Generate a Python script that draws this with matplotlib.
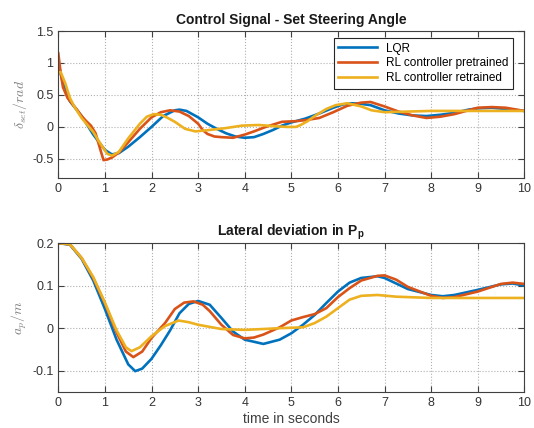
import numpy as np
import matplotlib.pyplot as plt

plt.rcParams['font.family'] = ['Liberation Sans', 'DejaVu Sans']
plt.rcParams['mathtext.fontset'] = 'custom'
plt.rcParams['mathtext.it'] = 'cmmi10'
plt.rcParams['mathtext.rm'] = 'cmr10'
plt.rcParams['mathtext.bf'] = 'Liberation Sans:bold'

# --- control signal (set steering angle) ---
t_lqr_top = [0, 0.1, 0.25, 0.5, 0.75, 1.0, 1.15, 1.3, 1.5, 1.75, 2.0, 2.25, 2.5, 2.6,
             2.75, 3.0, 3.2, 3.4, 3.6, 3.8, 4.0, 4.2, 4.4, 4.6, 4.8, 5.0, 5.3, 5.6,
             5.9, 6.1, 6.3, 6.5, 6.7, 7.0, 7.3, 7.6, 7.9, 8.2, 8.5, 8.8, 9.0, 9.3, 9.6, 10]
lqr_top = [1.0, 0.68, 0.40, 0.17, -0.12, -0.36, -0.43, -0.41, -0.31, -0.16, 0.0, 0.17,
           0.26, 0.27, 0.25, 0.15, 0.05, -0.03, -0.10, -0.15, -0.17, -0.16, -0.11, -0.05,
           0.02, 0.07, 0.13, 0.21, 0.30, 0.35, 0.37, 0.36, 0.34, 0.26, 0.21, 0.18, 0.17,
           0.19, 0.22, 0.27, 0.29, 0.30, 0.28, 0.25]

t_pre_top = [0, 0.05, 0.1, 0.2, 0.3, 0.4, 0.5, 0.6, 0.7, 0.8, 0.9, 0.97, 1.05, 1.15, 1.3,
             1.5, 1.75, 2.0, 2.2, 2.4, 2.6, 2.8, 3.0, 3.1, 3.2, 3.35, 3.5, 3.75, 4.0, 4.2,
             4.45, 4.8, 5.1, 5.3, 5.6, 5.9, 6.2, 6.5, 6.7, 7.0, 7.3, 7.6, 7.9, 8.2, 8.5,
             9.0, 9.3, 9.6, 10]
pre_top = [1.15, 0.85, 0.62, 0.45, 0.36, 0.27, 0.17, 0.09, 0.02, -0.10, -0.35, -0.52,
           -0.51, -0.48, -0.40, -0.24, -0.03, 0.15, 0.23, 0.26, 0.24, 0.17, 0.05, -0.05,
           -0.11, -0.15, -0.16, -0.17, -0.12, -0.07, 0.0, 0.08, 0.09, 0.105, 0.14, 0.23,
           0.33, 0.38, 0.39, 0.32, 0.24, 0.18, 0.14, 0.16, 0.20, 0.30, 0.31, 0.30, 0.25]

t_re_top = [0, 0.05, 0.15, 0.25, 0.35, 0.5, 0.75, 0.9, 1.05, 1.15, 1.3, 1.5, 1.75, 1.9,
            2.05, 2.2, 2.35, 2.5, 2.72, 2.94, 3.22, 3.58, 3.94, 4.3, 4.66, 4.9, 5.1, 5.2,
            5.35, 5.5, 5.75, 5.95, 6.2, 6.5, 6.72, 7.0, 7.5, 8.0, 9.0, 10]
re_top = [0.85, 0.86, 0.68, 0.45, 0.31, 0.14, -0.08, -0.26, -0.42, -0.45, -0.39, -0.18,
          0.05, 0.16, 0.20, 0.19, 0.14, 0.08, -0.03, -0.07, -0.05, -0.02, 0.02, 0.03, 0.01,
          0.0, 0.0, 0.03, 0.09, 0.17, 0.28, 0.34, 0.37, 0.32, 0.26, 0.23, 0.24, 0.25, 0.25, 0.25]

# --- lateral deviation ---
t_lqr_bot = [0, 0.25, 0.5, 0.75, 1.0, 1.25, 1.5, 1.65, 1.8, 2.0, 2.2, 2.4, 2.6, 2.8, 3.0,
             3.25, 3.5, 3.75, 4.0, 4.4, 4.75, 5.0, 5.25, 5.5, 5.75, 6.0, 6.25, 6.5, 6.85,
             7.0, 7.25, 7.5, 8.0, 8.25, 8.5, 9.0, 9.5, 9.75, 10]
lqr_bot = [0.2, 0.196, 0.163, 0.112, 0.045, -0.027, -0.085, -0.101, -0.095, -0.072, -0.04,
           -0.005, 0.035, 0.057, 0.064, 0.055, 0.024, -0.008, -0.027, -0.037, -0.027, -0.012,
           0.008, 0.031, 0.059, 0.086, 0.107, 0.118, 0.122, 0.118, 0.105, 0.092, 0.078,
           0.075, 0.078, 0.09, 0.103, 0.105, 0.1]

t_pre_bot = [0, 0.25, 0.5, 0.75, 1.0, 1.25, 1.45, 1.61, 1.8, 2.0, 2.29, 2.5, 2.7, 2.9, 3.1,
             3.25, 3.5, 3.75, 4.0, 4.2, 4.4, 4.75, 5.0, 5.25, 5.5, 5.75, 6.0, 6.25, 6.5,
             6.85, 7.0, 7.25, 7.5, 8.0, 8.25, 8.5, 9.0, 9.5, 9.75, 10]
pre_bot = [0.2, 0.197, 0.165, 0.118, 0.058, -0.01, -0.055, -0.068, -0.055, -0.023, 0.012,
           0.045, 0.06, 0.063, 0.055, 0.04, 0.008, -0.016, -0.024, -0.022, -0.015, 0.002,
           0.018, 0.026, 0.033, 0.047, 0.073, 0.094, 0.112, 0.123, 0.124, 0.114, 0.097,
           0.076, 0.071, 0.073, 0.086, 0.104, 0.107, 0.104]

t_re_bot = [0, 0.25, 0.5, 0.75, 1.0, 1.25, 1.45, 1.57, 1.75, 2.0, 2.29, 2.58, 2.8, 3.0,
            3.25, 3.5, 4.0, 4.4, 4.75, 5.0, 5.25, 5.5, 5.75, 6.0, 6.25, 6.5, 6.85, 7.25,
            7.5, 8.0, 10]
re_bot = [0.2, 0.197, 0.165, 0.12, 0.06, -0.005, -0.045, -0.054, -0.045, -0.019, 0.005,
          0.018, 0.014, 0.008, 0.003, -0.002, -0.004, -0.002, 0.0, 0.001, 0.002, 0.012,
          0.027, 0.047, 0.067, 0.076, 0.078, 0.074, 0.073, 0.071, 0.071]

labels = ["LQR", "RL controller pretrained", "RL controller retrained"]
colors = ["#0072BD", "#D95319", "#EDB120"]
grey = "#404040"


def style_axes(ax):
    ax.set_xlim(0, 10)
    ax.set_xticks(range(0, 11))
    ax.grid(True, linestyle=":", color="#b0b0b0", linewidth=0.8)
    ax.tick_params(direction="in", top=True, right=True, length=4,
                   colors=grey, labelsize=9, labelcolor="#333333")
    for s in ax.spines.values():
        s.set_color(grey)
        s.set_linewidth(0.8)


fig = plt.figure(figsize=(5.34, 4.28), dpi=100)
ax1 = fig.add_axes([0.1092, 0.584, 0.8727, 0.3435])
ax2 = fig.add_axes([0.1092, 0.0841, 0.8727, 0.348])

top = [(t_lqr_top, lqr_top), (t_pre_top, pre_top), (t_re_top, re_top)]
bot = [(t_lqr_bot, lqr_bot), (t_pre_bot, pre_bot), (t_re_bot, re_bot)]

for (t, v), c, lab in zip(top, colors, labels):
    ax1.plot(t, v, color=c, lw=1.9, label=lab)
for (t, v), c in zip(bot, colors):
    ax2.plot(t, v, color=c, lw=1.9)

style_axes(ax1)
ax1.set_ylim(-0.8, 1.5)
ax1.set_yticks([-0.5, 0, 0.5, 1, 1.5])
ax1.set_yticklabels(["-0.5", "0", "0.5", "1", "1.5"])
ax1.set_title("Control Signal - Set Steering Angle", fontsize=10, fontweight="bold",
              color="#1a1a1a", pad=5)
ax1.set_ylabel(r"$\delta_{set}/rad$", fontsize=10, color="#808080", labelpad=2)
leg = ax1.legend(loc="upper right", bbox_to_anchor=(0.975, 0.95), borderaxespad=0,
                 fontsize=8.5, handlelength=3.3, fancybox=False, framealpha=1,
                 edgecolor="#262626", labelspacing=0.25, borderpad=0.35)
leg.get_frame().set_linewidth(0.8)

style_axes(ax2)
ax2.set_ylim(-0.15, 0.2)
ax2.set_yticks([-0.1, 0, 0.1, 0.2])
ax2.set_yticklabels(["-0.1", "0", "0.1", "0.2"])
ax2.set_title(r"Lateral deviation in P$_\mathbf{p}$", fontsize=10, fontweight="bold",
              color="#1a1a1a", pad=5)
ax2.set_ylabel(r"$a_p/m$", fontsize=10, color="#808080", labelpad=2)
ax2.set_xlabel("time in seconds", fontsize=10, color=grey, labelpad=2)

fig.savefig("out.png", dpi=100)
